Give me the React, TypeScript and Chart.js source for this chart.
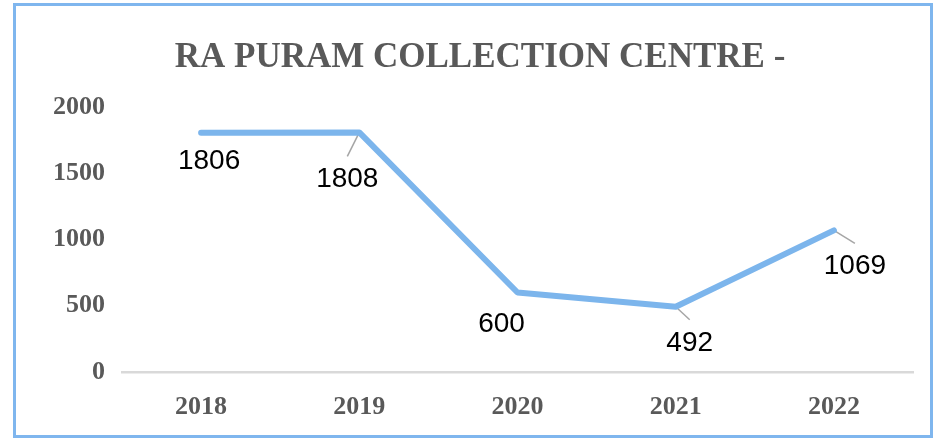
import React, { useEffect, useRef } from "react";
import { Chart, registerables } from "chart.js";

Chart.register(...registerables);

const TITLE = "RA PURAM COLLECTION CENTRE -";
const years = ["2018", "2019", "2020", "2021", "2022"];
const collections = [1806, 1808, 600, 492, 1069];
const yTickValues = [0, 500, 1000, 1500, 2000];

// data-label placement relative to its point (px) and whether a leader line is drawn
const labelDx = [8, -12, -16, 14, 21];
const labelDy = [29, 47, 32, 36, 36];
const leaderLines = [false, true, false, true, true];

const SERIF = "'Liberation Serif', 'Times New Roman', serif";
const SANS = "'Liberation Sans', Arial, sans-serif";

const annotate = {
  id: "annotate",
  beforeDatasetsDraw(chart: any) {
    const ctx = chart.ctx;
    const meta = chart.getDatasetMeta(0);
    ctx.save();
    ctx.strokeStyle = "#a6a6a6";
    ctx.lineWidth = 1.5;
    meta.data.forEach((pt: any, i: number) => {
      if (!leaderLines[i]) return;
      const cx = pt.x + labelDx[i];
      const cy = pt.y + labelDy[i];
      ctx.beginPath();
      ctx.moveTo(pt.x, pt.y);
      ctx.lineTo(cx, cy - 23);
      ctx.stroke();
    });
    ctx.restore();
  },
  afterDatasetsDraw(chart: any) {
    const ctx = chart.ctx;
    const meta = chart.getDatasetMeta(0);
    ctx.save();
    ctx.font = `bold 35px ${SERIF}`;
    ctx.fillStyle = "#595959";
    ctx.textAlign = "center";
    ctx.textBaseline = "alphabetic";
    ctx.fillText(TITLE, 480, 67);

    ctx.font = `28px ${SANS}`;
    ctx.fillStyle = "#000000";
    ctx.textBaseline = "middle";
    meta.data.forEach((pt: any, i: number) => {
      const cx = pt.x + labelDx[i];
      const cy = pt.y + labelDy[i];
      ctx.fillText(String(collections[i]), cx, cy);
    });
    ctx.restore();
  },
};

export default function App() {
  const canvasRef = useRef<HTMLCanvasElement | null>(null);

  useEffect(() => {
    if (!canvasRef.current) return;
    const chart = new Chart(canvasRef.current, {
      type: "line",
      data: {
        labels: years,
        datasets: [
          {
            data: collections,
            borderColor: "#7cb5ec",
            borderWidth: 6,
            borderCapStyle: "round",
            borderJoinStyle: "round",
            pointRadius: 0,
            pointHoverRadius: 0,
            tension: 0,
            fill: false,
          },
        ],
      },
      options: {
        responsive: false,
        animation: false,
        layout: { padding: { top: 107, right: 26, bottom: 0, left: 0 } },
        plugins: {
          legend: { display: false },
          title: { display: false },
          tooltip: { enabled: false },
        },
        scales: {
          x: {
            type: "category",
            offset: true,
            grid: { display: false, drawTicks: false },
            border: { display: true, color: "#d9d9d9", width: 2.5 },
            ticks: {
              color: "#595959",
              font: { family: SERIF, weight: "bold", size: 26 },
              padding: 20,
              maxRotation: 0,
            },
            afterFit: (scale: any) => {
              scale.height = 66;
            },
          },
          y: {
            min: 0,
            max: 2000,
            afterBuildTicks: (scale: any) => {
              scale.ticks = yTickValues.map((v) => ({ value: v }));
            },
            grid: { display: false, drawTicks: false },
            border: { display: false },
            ticks: {
              color: "#595959",
              font: { family: SERIF, weight: "bold", size: 26 },
              padding: 17,
              callback: (value: any) => String(value),
            },
            afterFit: (scale: any) => {
              scale.width = 122;
            },
          },
        },
      },
      plugins: [annotate],
    });
    return () => chart.destroy();
  }, []);

  return (
    <div style={{ position: "fixed", left: 0, top: 0, width: 939, height: 438, background: "#ffffff" }}>
      <canvas ref={canvasRef} width={939} height={438} style={{ position: "absolute", left: 0, top: 0 }} />
      <div
        style={{
          position: "absolute",
          left: 13,
          top: 3,
          width: 920,
          height: 435,
          boxSizing: "border-box",
          border: "3px solid #7fb6ee",
          pointerEvents: "none",
        }}
      />
    </div>
  );
}
